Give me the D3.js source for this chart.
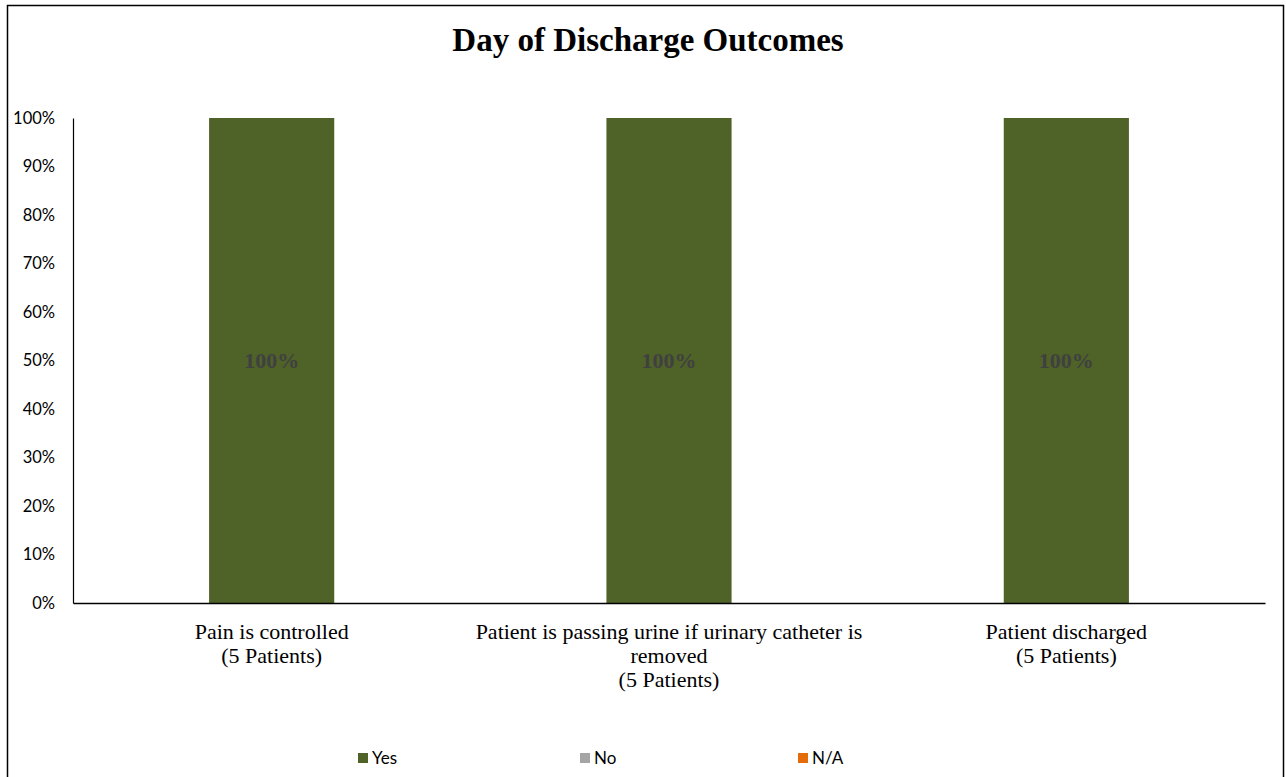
<!DOCTYPE html>
<html>
<head>
<meta charset="utf-8">
<script src="https://cdn.jsdelivr.net/npm/d3@7"></script>
<style>
  html, body { margin: 0; padding: 0; background: #fff; }
  svg { display: block; }
</style>
</head>
<body>
<svg id="chart" width="1286" height="777"></svg>
<script>
// Day-of-discharge outcome categories (each line of a label is one entry)
const categories = [
  ["Pain is controlled", "(5 Patients)"],
  ["Patient is passing urine if urinary catheter is", "removed", "(5 Patients)"],
  ["Patient discharged", "(5 Patients)"]
];
const seriesNames = ["Yes", "No", "N/A"];
const yesValues = [100, 100, 100];
const noValues = [0, 0, 0];
const naValues = [0, 0, 0];
const yTicks = [0, 10, 20, 30, 40, 50, 60, 70, 80, 90, 100];
const seriesColors = ["#4F6228", "#A5A5A5", "#E46C0A"];

const svg = d3.select("#chart");
const plot = { left: 73, right: 1265, top: 118, bottom: 603 };
const serif = "'Liberation Serif', 'Times New Roman', serif";
const sans = "Lato, 'Open Sans', sans-serif";

// outer frame
svg.append("rect")
  .attr("x", 7.5).attr("y", 5.5)
  .attr("width", 1276).attr("height", 800)
  .attr("fill", "none").attr("stroke", "#000").attr("stroke-width", 1.5);

svg.append("text")
  .attr("x", 648).attr("y", 51)
  .attr("text-anchor", "middle")
  .style("font-family", serif)
  .style("font-weight", "bold").style("font-size", "33px")
  .text("Day of Discharge Outcomes");

const x = d3.scaleBand()
  .domain(d3.range(categories.length))
  .range([plot.left, plot.right])
  .paddingInner(0.685).paddingOuter(0.3425);
const y = d3.scaleLinear().domain([0, 100]).range([plot.bottom, plot.top]);

// stacked series
const rows = categories.map((c, i) => ({ i, Yes: yesValues[i], No: noValues[i], "N/A": naValues[i] }));
const stack = d3.stack().keys(seriesNames)(rows);

svg.append("g").selectAll("g")
  .data(stack).join("g")
  .attr("fill", (d, k) => seriesColors[k])
  .selectAll("rect")
  .data(d => d).join("rect")
  .attr("x", d => x(d.data.i))
  .attr("width", x.bandwidth())
  .attr("y", d => y(d[1]))
  .attr("height", d => y(d[0]) - y(d[1]));

// value labels on non-empty segments
stack.forEach(s => {
  s.forEach(d => {
    const v = d[1] - d[0];
    if (v <= 0) return;
    svg.append("text")
      .attr("x", x(d.data.i) + x.bandwidth() / 2)
      .attr("y", y((d[0] + d[1]) / 2))
      .attr("dy", "0.35em")
      .attr("text-anchor", "middle")
      .attr("fill", "#404040")
      .style("font-family", serif)
      .style("font-weight", "bold").style("font-size", "22px")
      .text(v + "%");
  });
});

// y axis
const yAxis = d3.axisLeft(y).tickValues(yTicks).tickSize(0).tickPadding(18)
  .tickFormat(d => d + "%");
const gy = svg.append("g").attr("transform", `translate(${plot.left},0)`).call(yAxis);
gy.select(".domain").attr("stroke", "#000").attr("stroke-width", 1.2);
gy.selectAll("text")
  .style("font-family", sans)
  .style("font-size", "16.5px").attr("fill", "#000");

// x axis baseline
const xAxis = d3.axisBottom(x).tickSize(0).tickFormat("");
const gx = svg.append("g").attr("transform", `translate(0,${plot.bottom})`).call(xAxis);
gx.select(".domain").attr("stroke", "#000").attr("stroke-width", 1.5);

// multi-line category labels
categories.forEach((lines, i) => {
  const cx = x(i) + x.bandwidth() / 2;
  const t = svg.append("text")
    .attr("x", cx)
    .attr("y", 639)
    .attr("text-anchor", "middle")
    .style("font-family", serif)
    .style("font-size", "22px").attr("fill", "#000");
  lines.forEach((ln, j) => {
    t.append("tspan").attr("x", cx).attr("dy", j === 0 ? 0 : 24).text(ln);
  });
});

// legend
const legendX = [358, 580, 798];
const lg = svg.append("g");
seriesNames.forEach((name, k) => {
  lg.append("rect")
    .attr("x", legendX[k]).attr("y", 753)
    .attr("width", 10).attr("height", 10)
    .attr("fill", seriesColors[k]);
  lg.append("text")
    .attr("x", legendX[k] + 14).attr("y", 764)
    .style("font-family", sans)
    .style("font-size", "17px").attr("fill", "#000")
    .text(name);
});
</script>
</body>
</html>
